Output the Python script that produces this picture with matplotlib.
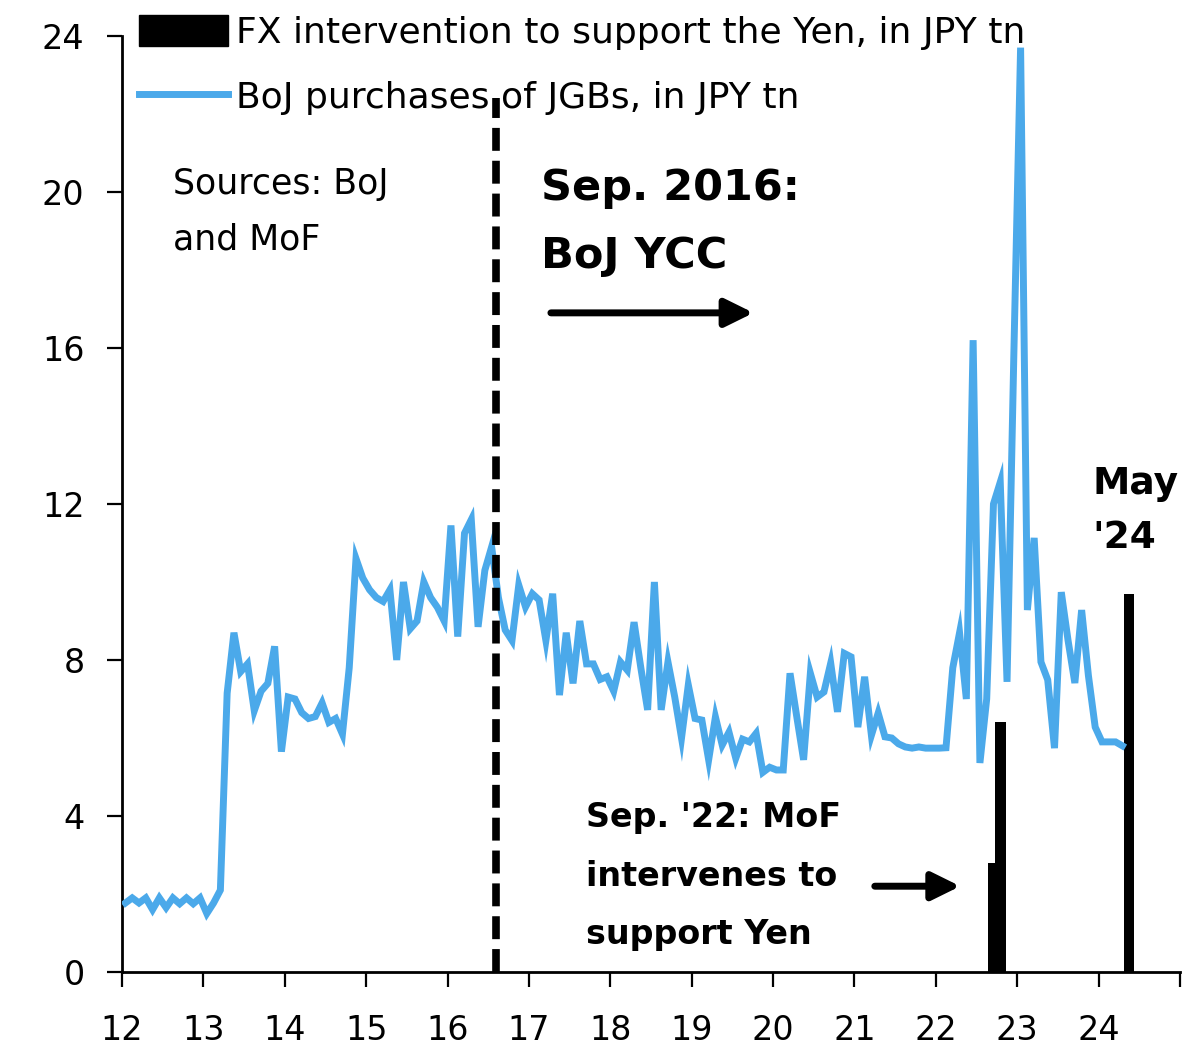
import numpy as np
import matplotlib
matplotlib.use("Agg")
import matplotlib.pyplot as plt
from matplotlib.patches import Patch
from matplotlib.lines import Line2D

plt.rcParams['font.family'] = ['DejaVu Sans']

# BoJ monthly purchases of JGBs (JPY tn), Jan 2012 .. Apr 2024
jgb_2012 = [1.77, 1.9, 1.77, 1.9, 1.6, 1.9, 1.65, 1.9, 1.75, 1.9, 1.75, 1.9]
jgb_2013 = [1.5, 1.77, 2.1, 7.15, 8.7, 7.7, 7.9, 6.7, 7.2, 7.4, 8.35, 5.65]
jgb_2014 = [7.05, 7.0, 6.65, 6.5, 6.55, 6.9, 6.4, 6.5, 6.1, 7.8, 10.6, 10.1]
jgb_2015 = [9.8, 9.6, 9.5, 9.8, 8.0, 10.0, 8.8, 9.0, 10.0, 9.6, 9.35, 9.0]
jgb_2016 = [11.45, 8.6, 11.25, 11.6, 8.85, 10.3, 10.9, 9.6, 8.77, 8.5, 9.92, 9.36]
jgb_2017 = [9.7, 9.54, 8.5, 9.7, 7.1, 8.7, 7.4, 9.0, 7.9, 7.9, 7.5, 7.57]
jgb_2018 = [7.2, 7.95, 7.74, 8.97, 7.8, 6.72, 10.0, 6.72, 7.95, 7.05, 6.0, 7.36]
jgb_2019 = [6.5, 6.46, 5.44, 6.54, 5.82, 6.15, 5.48, 5.97, 5.9, 6.12, 5.12, 5.25]
jgb_2020 = [5.18, 5.18, 7.66, 6.54, 5.44, 7.66, 7.05, 7.18, 7.92, 6.67, 8.17, 8.08]
jgb_2021 = [6.28, 7.57, 6.07, 6.64, 6.03, 6.0, 5.85, 5.77, 5.74, 5.77, 5.74, 5.74]
jgb_2022 = [5.74, 5.75, 7.8, 8.7, 7.0, 16.2, 5.36, 7.0, 12.0, 12.56, 7.44, 15.8]
jgb_2023 = [23.7, 9.28, 11.13, 7.95, 7.49, 5.74, 9.74, 8.5, 7.41, 9.28, 7.6, 6.28]
jgb_2024 = [5.9, 5.9, 5.9, 5.8]

# FX intervention (JPY tn)
fx_year = [22, 22, 24]
fx_month = [9, 10, 5]
fx_amount = [2.8, 6.4, 9.7]

year_labels = ['12', '13', '14', '15', '16', '17', '18', '19', '20', '21', '22', '23', '24']

blue = '#4BA9EA'

jgb = np.array(jgb_2012 + jgb_2013 + jgb_2014 + jgb_2015 + jgb_2016 + jgb_2017 + jgb_2018
               + jgb_2019 + jgb_2020 + jgb_2021 + jgb_2022 + jgb_2023 + jgb_2024)
# mid-month positions on a "years since 2000" axis
jgb_x = 12 + (np.arange(len(jgb)) + 0.5) / 12
fx_x = [y + (m - 0.5) / 12 for y, m in zip(fx_year, fx_month)]

fig = plt.figure(figsize=(12, 10.57), dpi=100)
ax = fig.add_axes([0.1017, 0.0804, 0.8816, 0.8856])

ax.bar(fx_x, fx_amount, width=0.13, color='black', zorder=2)
ax.plot(jgb_x, jgb, color=blue, lw=5, solid_joinstyle='miter', zorder=3)

# YCC marker line
ax.plot([16.6, 16.6], [0, 22.4], color='black', lw=5.5, dashes=(3, 1.3), zorder=4)

ax.set_xlim(12, 25)
ax.set_ylim(0, 24)
ax.set_xticks(range(12, 26))
ax.set_xticklabels(year_labels + [''])
ax.set_yticks(range(0, 25, 4))
ax.tick_params(axis='both', labelsize=24, length=11, width=1.6, direction='out')
ax.tick_params(axis='x', pad=19)
ax.tick_params(axis='y', pad=16)
for side in ['top', 'right']:
    ax.spines[side].set_visible(False)
for side in ['left', 'bottom']:
    ax.spines[side].set_linewidth(2)

handles = [Patch(facecolor='black', edgecolor='black'),
           Line2D([0], [0], color=blue, lw=5)]
labels = ['FX intervention to support the Yen, in JPY tn',
          'BoJ purchases of JGBs, in JPY tn']
ax.legend(handles, labels, loc='upper left', bbox_to_anchor=(0.1158, 0.9855),
          bbox_transform=fig.transFigure, frameon=False, fontsize=26,
          handlelength=2.47, handleheight=0.94, handletextpad=0.22,
          labelspacing=0.82, borderpad=0, borderaxespad=0)

ax.text(12.63, 19.5, 'Sources: BoJ\nand MoF', fontsize=25, va='center', ha='left',
        linespacing=1.79)
ax.text(17.15, 19.23, 'Sep. 2016:\nBoJ YCC', fontsize=31, fontweight='bold',
        va='center', ha='left', linespacing=1.77)
ax.text(23.92, 11.81, "May\n'24", fontsize=27, fontweight='bold',
        va='center', ha='left', linespacing=1.65)
ax.text(17.70, 2.45, "Sep. '22: MoF\nintervenes to\nsupport Yen", fontsize=24,
        fontweight='bold', va='center', ha='left', linespacing=1.98)

arrow = dict(arrowstyle='-|>,head_length=0.85,head_width=0.42', lw=5,
             color='black', mutation_scale=20, shrinkA=0, shrinkB=0)
ax.annotate('', xy=(19.76, 16.9), xytext=(17.27, 16.9), arrowprops=arrow)
ax.annotate('', xy=(22.3, 2.2), xytext=(21.25, 2.2), arrowprops=arrow)

fig.savefig('out.png', dpi=100)
